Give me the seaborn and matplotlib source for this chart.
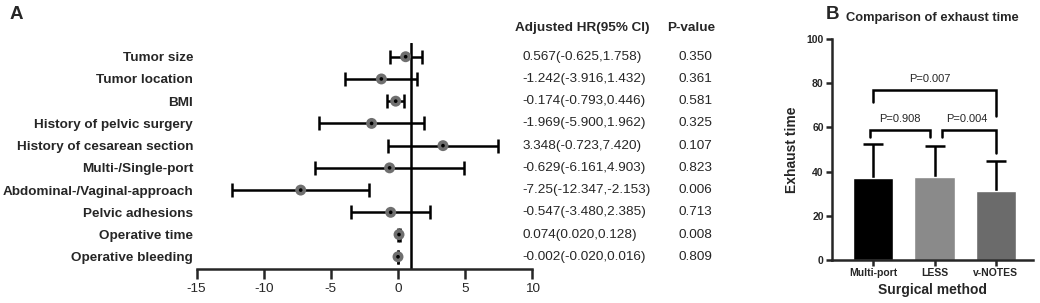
import numpy as np
import pandas as pd
import matplotlib
matplotlib.use('Agg')
import matplotlib.pyplot as plt
import matplotlib.transforms as mtransforms
import seaborn as sns

# =============================================================================
# DATOS
# =============================================================================
variables = ['Tumor size', 'Tumor location', 'BMI', 'History of pelvic surgery',
             'History of cesarean section', 'Multi-/Single-port',
             'Abdominal-/Vaginal-approach', 'Pelvic adhesions',
             'Operative time', 'Operative bleeding']
hr = [0.567, -1.242, -0.174, -1.969, 3.348, -0.629, -7.25, -0.547, 0.074, -0.002]
ci_low = [-0.625, -3.916, -0.793, -5.900, -0.723, -6.161, -12.347, -3.480, 0.020, -0.020]
ci_high = [1.758, 1.432, 0.446, 1.962, 7.420, 4.903, -2.153, 2.385, 0.128, 0.016]
hr_text = ['0.567(-0.625,1.758)', '-1.242(-3.916,1.432)', '-0.174(-0.793,0.446)',
           '-1.969(-5.900,1.962)', '3.348(-0.723,7.420)', '-0.629(-6.161,4.903)',
           '-7.25(-12.347,-2.153)', '-0.547(-3.480,2.385)', '0.074(0.020,0.128)',
           '-0.002(-0.020,0.016)']
p_text = ['0.350', '0.361', '0.581', '0.325', '0.107', '0.823', '0.006', '0.713', '0.008', '0.809']

metodos = ['Multi-port', 'LESS', 'v-NOTES']
media_exhaust = [37.1, 37.4, 31.4]
sd_exhaust = [15.2, 14.4, 13.3]
colores_barras = ['#000000', '#8a8a8a', '#6b6b6b']

# comparaciones: (x izq, x der, pierna izq, pierna der, techo, texto, x texto, y texto)
comparaciones = [
    (-0.05, 0.93, 55.6, 55.6, 59.0, 'P=0.908', 0.44, 64.0),
    (1.13, 2.00, 55.6, 48.2, 59.0, 'P=0.004', 1.52, 64.0),
    (0.00, 2.00, 71.7, 65.0, 77.0, 'P=0.007', 0.93, 82.0),
]

# =============================================================================
# ESTILO
# =============================================================================
sns.set_style('ticks')
plt.rcParams['font.family'] = ['Liberation Sans', 'DejaVu Sans']
plt.rcParams['axes.linewidth'] = 1.8

fig = plt.figure(figsize=(10.4, 3.03), dpi=100)

# =============================================================================
# PANEL A: FOREST PLOT
# =============================================================================
axA = fig.add_axes([0.1891, 0.1122, 0.3227, 0.7468])
df_forest = pd.DataFrame({'var': variables, 'hr': hr, 'lo': ci_low, 'hi': ci_high,
                          'pos': np.arange(len(variables))})

axA.errorbar(df_forest['hr'], df_forest['pos'],
             xerr=[df_forest['hr'] - df_forest['lo'], df_forest['hi'] - df_forest['hr']],
             fmt='none', ecolor='black', elinewidth=1.8, capsize=4.7, capthick=1.8, zorder=2)
sns.scatterplot(data=df_forest, x='hr', y='pos', s=62, color='#6f6f6f',
                edgecolor='none', ax=axA, zorder=3, legend=False)
sns.scatterplot(data=df_forest, x='hr', y='pos', s=7, color='black',
                edgecolor='none', ax=axA, zorder=4, legend=False)
axA.axvline(1, color='black', lw=1.8, zorder=1)

axA.set_xlim(-15, 10)
axA.set_ylim(9.55, -0.63)
axA.set_xticks([-15, -10, -5, 0, 5, 10])
axA.set_xticklabels(['-15', '-10', '-5', '0', '5', '10'], fontsize=9.7)
axA.set_yticks(df_forest['pos'])
axA.set_yticklabels(variables, fontsize=9.7, fontweight='bold')
axA.tick_params(axis='y', length=0, pad=2.6)
axA.tick_params(axis='x', length=7, width=1.8, pad=3)
axA.set_xlabel('')
axA.set_ylabel('')
for lado in ['left', 'top', 'right']:
    axA.spines[lado].set_visible(False)

trans = mtransforms.blended_transform_factory(fig.transFigure, axA.transData)
axA.text(0.4952, -1.3, 'Adjusted HR(95% CI)', transform=trans, fontsize=9.7,
         fontweight='bold', va='center', ha='left', clip_on=False)
axA.text(0.6413, -1.3, 'P-value', transform=trans, fontsize=9.7,
         fontweight='bold', va='center', ha='left', clip_on=False)
for i in range(len(variables)):
    axA.text(0.5026, i, hr_text[i], transform=trans, fontsize=9.7, va='center', ha='left')
    axA.text(0.652, i, p_text[i], transform=trans, fontsize=9.7, va='center', ha='left')

fig.text(0.0096, 1 - 14.5 / 303, 'A', fontsize=13.5, fontweight='bold', va='center', ha='left')

# =============================================================================
# PANEL B: BARRAS
# =============================================================================
axB = fig.add_axes([0.8, 0.1419, 0.193, 0.7294])
df_bar = pd.DataFrame({'metodo': metodos, 'media': media_exhaust, 'sd': sd_exhaust})
sns.barplot(data=df_bar, x='metodo', y='media', hue='metodo', palette=colores_barras,
            width=0.66, errorbar=None, ax=axB, legend=False, saturation=1)
eb = axB.errorbar(np.arange(len(metodos)), df_bar['media'],
                  yerr=[np.zeros(len(metodos)), df_bar['sd']], fmt='none', ecolor='black',
                  elinewidth=1.8, capsize=7.5, capthick=1.8, zorder=0)
# solo la barra superior (quitar el cap inferior)
eb[1][0].set_visible(False)

for x1, x2, h1, h2, techo, txt, xt, yt in comparaciones:
    axB.plot([x1, x1, x2, x2], [h1, techo, techo, h2], color='black', lw=1.8,
             solid_joinstyle='miter')
    axB.text(xt, yt, txt, fontsize=8, ha='center', va='center')

axB.set_xlim(-0.67, 2.6)
axB.set_ylim(0, 100)
axB.set_yticks([0, 20, 40, 60, 80, 100])
axB.set_yticklabels(['0', '20', '40', '60', '80', '100'], fontsize=7.5, fontweight='bold')
axB.set_xticks(range(len(metodos)))
axB.set_xticklabels(metodos, fontsize=7.5, fontweight='bold')
axB.tick_params(axis='both', length=4, width=1.8, pad=2)
axB.set_title('Comparison of exhaust time', fontsize=9.3, fontweight='bold', pad=13)
axB.set_xlabel('Surgical method', fontsize=10, fontweight='bold', labelpad=3)
axB.set_ylabel('Exhaust time', fontsize=10, fontweight='bold')
axB.yaxis.set_label_coords(-0.164, 0.5)
sns.despine(ax=axB)

fig.text(0.794, 1 - 14.5 / 303, 'B', fontsize=13.5, fontweight='bold', va='center', ha='left')

plt.savefig('out.png', dpi=100)
plt.close()
